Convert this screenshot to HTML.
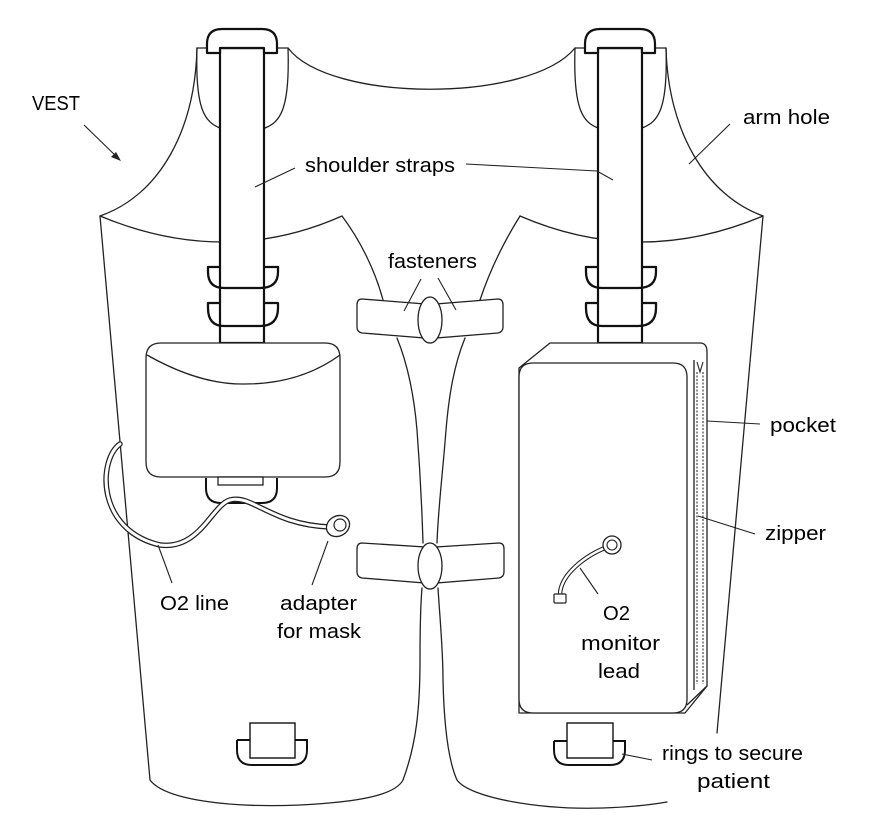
<!DOCTYPE html>
<html><head><meta charset="utf-8"><style>
html,body{margin:0;padding:0;background:#fff}
svg{display:block}
text{font-family:"Liberation Sans",sans-serif;font-size:20px;fill:#000}
</style></head><body>
<svg width="881" height="834" viewBox="0 0 881 834" xmlns="http://www.w3.org/2000/svg">
<g fill="none" stroke="#222" stroke-width="1.3" stroke-linecap="round" stroke-linejoin="round">
<path d="M197,48 L288,48"/>
<path d="M575,48 L666,48"/>
<path d="M288,48 C330,103 530,103 575,48"/>
<path d="M197,48 C195,110 205,122 220,128"/>
<path d="M288,48 C290,110 280,122 265,128"/>
<path d="M575,48 C573,110 583,122 598,128"/>
<path d="M666,48 C668,110 658,122 642,128"/>
<path d="M197,48 C195,130 160,195 100,216"/>
<path d="M666,48 C668,130 705,195 763,216"/>
<path d="M100,216 Q225,268 342,216"/>
<path d="M520,216 Q640,268 763,216"/>
<!-- left panel outline -->
<path d="M100,216 L150,780 C165,800 230,808 300,805 C360,802 395,795 403,780 C416,745 420,710 420,660 C420,620 421,600 422,588"/>
<path d="M397,338 C408,365 414,395 417,430 C420,470 422,510 423,543"/>
<path d="M342,216 C360,240 375,270 383,300"/>
<!-- right panel outline -->
<path d="M520,216 C505,240 490,270 480,300"/>
<path d="M465,338 C454,365 449,395 446,430 C443,470 438,510 437,543"/>
<path d="M438,588 C440,620 443,650 443,680 C444,725 448,760 457,780 C470,798 540,810 603,808 C630,807 650,805 667,802"/>
<path d="M763,216 L717,733"/>
</g>

<g fill="#fff" stroke="#111" stroke-width="2.2" stroke-linejoin="round">
<rect x="220" y="48" width="44" height="295"/>
<rect x="598" y="48" width="44" height="295"/>
<path d="M207,53 L207,44 Q207,29 222,29 L262,29 Q277,29 277,44 L277,53 L264,53 L264,48 L220,48 L220,53 Z"/>
<path d="M585,53 L585,44 Q585,29 600,29 L640,29 Q655,29 655,44 L655,53 L642,53 L642,48 L598,48 L598,53 Z"/>
</g>
<g fill="none" stroke="#111" stroke-width="2.3" stroke-linejoin="round">
<path d="M220,267 L208,267 L208,272 Q208,288 224,288 L260,288 Q278,288 278,272 L278,267 L264,267"/>
<path d="M220,303 L208,303 L208,308 Q208,326 224,326 L260,326 Q278,326 278,308 L278,303 L264,303"/>
<path d="M598,267 L586,267 L586,272 Q586,288 602,288 L638,288 Q656,288 656,272 L656,267 L642,267"/>
<path d="M598,303 L586,303 L586,308 Q586,326 602,326 L638,326 Q656,326 656,308 L656,303 L642,303"/>
</g>

<g fill="#fff" stroke="#222" stroke-width="1.3">
<path d="M362,299 L425,304 L425,338 L362,333 Q357,332 357,327 L357,305 Q357,299 362,299 Z"/>
<path d="M498,299 L436,304 L436,338 L498,333 Q503,332 503,327 L503,305 Q503,299 498,299 Z"/>
<ellipse cx="430" cy="320" rx="12" ry="23"/>
<path d="M362,543 L425,547 L425,583 L362,578 Q357,577 357,572 L357,549 Q357,543 362,543 Z"/>
<path d="M499,543 L436,547 L436,583 L499,578 Q504,577 504,572 L504,549 Q504,543 499,543 Z"/>
<ellipse cx="430" cy="566" rx="12" ry="23"/>
</g>

<g fill="#fff" stroke="#222" stroke-width="1.3">
<path d="M161,343 L325,343 Q340,343 340,358 L340,462 Q340,477 325,477 L161,477 Q146,477 146,462 L146,358 Q146,343 161,343 Z"/>
<path d="M147,355 Q200,385 245,384 Q300,384 340,355" fill="none"/>
</g>
<g fill="#fff" stroke="#111" stroke-width="2">
<path d="M206,478 L206,488 Q206,503 221,503 L262,503 Q277,503 277,488 L277,478"/>
<rect x="218" y="477" width="45" height="8" stroke-width="1.2"/>
</g>
<path d="M120,444 C98,460 96,530 160,545 C200,550 212,505 230,500 C252,494 272,525 330,527" fill="none" stroke="#222" stroke-width="5.5" stroke-linecap="round"/>
<path d="M120,444 C98,460 96,530 160,545 C200,550 212,505 230,500 C252,494 272,525 330,527" fill="none" stroke="#fff" stroke-width="3" stroke-linecap="round"/>
<ellipse cx="338" cy="526" rx="12" ry="10" fill="#fff" stroke="#222" stroke-width="1.3" transform="rotate(-30 338 526)"/>
<ellipse cx="340" cy="525" rx="6" ry="6" fill="#fff" stroke="#222" stroke-width="1.2"/>

<g fill="#fff" stroke="#111" stroke-width="2">
<path d="M237,740 L237,750 Q237,765 252,765 L292,765 Q307,765 307,750 L307,740 L295,740 M250,740 L237,740"/>
<rect x="250" y="723" width="45" height="35" stroke-width="1.4"/>
</g>
<g fill="#fff" stroke="#111" stroke-width="2">
<path d="M554,741 L554,750 Q554,765 569,765 L610,765 Q625,765 625,750 L625,741 L613,741 M567,741 L554,741"/>
<rect x="567" y="723" width="46" height="35" stroke-width="1.4"/>
</g>

<g fill="#fff" stroke="#222" stroke-width="1.3" stroke-linejoin="round">
<path d="M519,368 L550,343 L700,343 Q707,343 707,352 L707,686 L685,713 L519,713 Z"/>
<path d="M533,363 L673,363 Q687,363 687,377 L687,699 Q687,713 673,713 L533,713 Q519,713 519,699 L519,377 Q519,363 533,363 Z"/>
<path d="M694,360 L694,690"/>
<path d="M687,705 L707,686"/>
</g>
<g fill="none" stroke="#333" stroke-width="1.1">
<path d="M697,372 L697,684 M703,372 L703,684" stroke-dasharray="2,1.5"/>
<path d="M697,362 L700,372 L703,362" stroke-width="1.2"/>
</g>
<path d="M560,595 C560,575 585,555 610,546" fill="none" stroke="#222" stroke-width="4.5"/>
<path d="M560,595 C560,575 585,555 610,546" fill="none" stroke="#fff" stroke-width="2.3"/>
<circle cx="612" cy="545" r="9" fill="#fff" stroke="#222" stroke-width="1.3"/>
<circle cx="612" cy="545" r="5" fill="#fff" stroke="#222" stroke-width="1.1"/>
<rect x="554" y="594" width="12" height="9" rx="1" fill="#fff" stroke="#222" stroke-width="1.2"/>

<g stroke="#222" stroke-width="1.1" fill="none">
<path d="M84,125 L118,158"/>
<path d="M295,168 L255,187"/>
<path d="M466,164 L597,171 L613,180"/>
<path d="M421,279 L404,311"/>
<path d="M438,278 L456,310"/>
<path d="M730,124 L689,164"/>
<path d="M707,421 L760,424"/>
<path d="M698,516 L755,534"/>
<path d="M158,545 L172,583"/>
<path d="M328,541 L312,585"/>
<path d="M580,568 L598,594"/>
<path d="M622,754 L652,760"/>
</g>
<path d="M121,161 L111,157 L116,152 Z" fill="#222"/>

<text x="32" y="110" textLength="48" lengthAdjust="spacingAndGlyphs">VEST</text>
<text x="305" y="172" textLength="150" lengthAdjust="spacingAndGlyphs">shoulder straps</text>
<text x="388" y="268" textLength="89" lengthAdjust="spacingAndGlyphs">fasteners</text>
<text x="743" y="124" textLength="87" lengthAdjust="spacingAndGlyphs">arm hole</text>
<text x="770" y="432" textLength="66" lengthAdjust="spacingAndGlyphs">pocket</text>
<text x="765" y="540" textLength="61" lengthAdjust="spacingAndGlyphs">zipper</text>
<text x="160" y="610" textLength="69" lengthAdjust="spacingAndGlyphs">O2 line</text>
<text x="280" y="610" textLength="77" lengthAdjust="spacingAndGlyphs">adapter</text>
<text x="277" y="638" textLength="84" lengthAdjust="spacingAndGlyphs">for mask</text>
<text x="603" y="620" textLength="27" lengthAdjust="spacingAndGlyphs">O2</text>
<text x="581" y="650" textLength="79" lengthAdjust="spacingAndGlyphs">monitor</text>
<text x="598" y="678" textLength="42" lengthAdjust="spacingAndGlyphs">lead</text>
<text x="662" y="760" textLength="141" lengthAdjust="spacingAndGlyphs">rings to secure</text>
<text x="697" y="788" textLength="73" lengthAdjust="spacingAndGlyphs">patient</text>
</svg>
</body></html>
